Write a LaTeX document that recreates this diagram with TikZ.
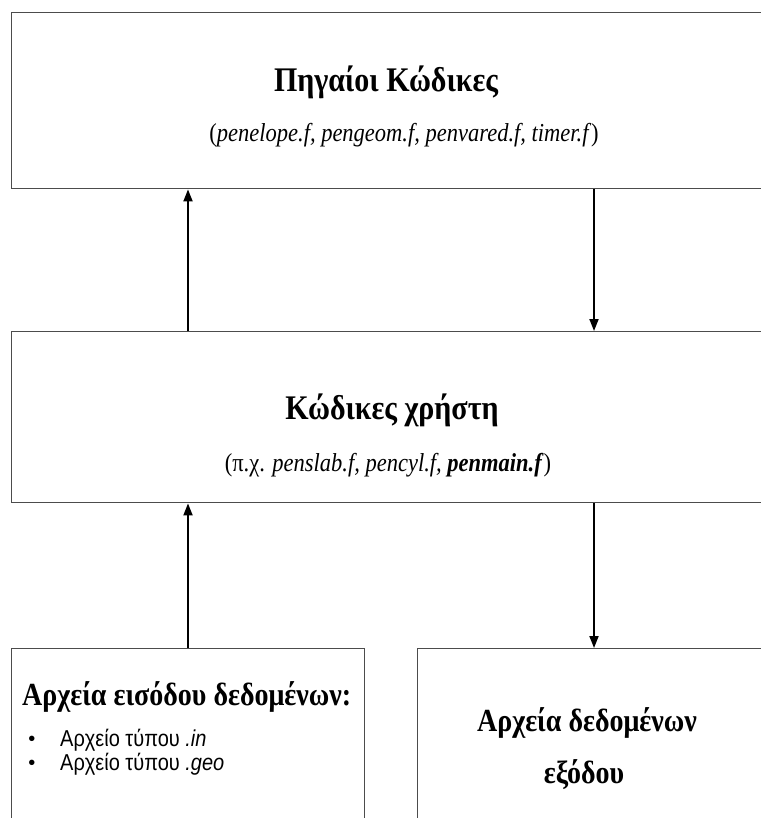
\documentclass[tikz,border=0pt]{standalone}
\usepackage{fontspec}
\usepackage{graphicx}
\setmainfont{Liberation Serif}
\newfontfamily\sansgr{Liberation Sans}
\usetikzlibrary{arrows.meta}
\newcommand{\vstretch}[1]{\scalebox{1}[1.15]{#1}}
\begin{document}
\begin{tikzpicture}[x=1pt,y=-1pt,
  box/.style={draw=black!70, line width=1.4pt, inner sep=0pt, fill=white},
  conn/.style={-{Triangle[length=12pt,width=9pt]}, line width=1.8pt},
  ttl/.style={font=\bfseries\fontsize{30}{34}\selectfont, inner sep=0pt},
  ttlb/.style={font=\bfseries\fontsize{28}{32}\selectfont, inner sep=0pt},
  subt/.style={font=\fontsize{22.5}{26}\selectfont, inner sep=0pt},
  bul/.style={font=\sansgr\fontsize{20}{24}\selectfont, inner sep=0pt, anchor=west}]
\useasboundingbox (0,0) rectangle (760,818);
\fill[white] (0,0) rectangle (760,818);
% boxes
\node[box, anchor=north west, minimum width=775pt, minimum height=176pt] (src) at (11,12) {};
\node[box, anchor=north west, minimum width=775pt, minimum height=171pt] (usr) at (11,331) {};
\node[box, anchor=north west, minimum width=353pt, minimum height=200pt] (inp) at (11,648) {};
\node[box, anchor=north west, minimum width=370pt, minimum height=200pt] (out) at (417,648) {};
% texts
\node[ttl] (t1) at (386,82) {\vstretch{Πηγαίοι Κώδικες}};
\node[subt] (s1) at (404,135) {\vstretch{(\textit{penelope.f, pengeom.f, penvared.f, timer.f})}};
\node[ttl] (t2) at (392,410) {\vstretch{Κώδικες χρήστη}};
\node[subt] (s2) at (388,465) {\vstretch{(π.χ. \textit{penslab.f, pencyl.f, \textbf{penmain.f}})}};
\node[ttlb, anchor=west] (t3) at (22,697) {\vstretch{Αρχεία εισόδου δεδομένων:}};
\node[bul] (b1) at (60,740) {\vstretch{Αρχείο τύπου \textit{.in}}};
\node[bul] (b2) at (60,764) {\vstretch{Αρχείο τύπου \textit{.geo}}};
\node[bul, anchor=center] (d1) at (32,741) {•};
\node[bul, anchor=center] (d2) at (32,765) {•};
\node[ttlb] (t4) at (587,723) {\vstretch{Αρχεία δεδομένων}};
\node[ttlb] (t5) at (584,775) {\vstretch{εξόδου}};
% connectors
\coordinate (xl) at (188,0);
\coordinate (xr) at (594,0);
\draw[conn] (usr.north -| xl) -- (src.south -| xl);
\draw[conn] (src.south -| xr) -- (usr.north -| xr);
\draw[conn] (inp.north -| xl) -- (usr.south -| xl);
\draw[conn] (usr.south -| xr) -- (out.north -| xr);
\end{tikzpicture}
\end{document}
